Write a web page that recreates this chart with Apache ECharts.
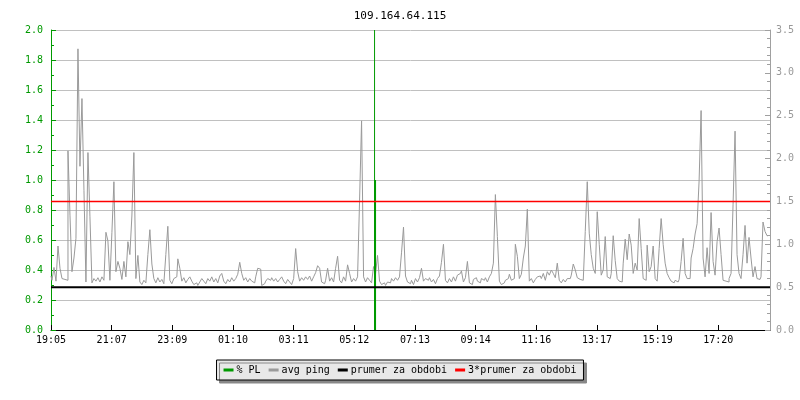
<!DOCTYPE html>
<html>
<head>
<meta charset="utf-8">
<title>109.164.64.115</title>
<script src="https://cdn.jsdelivr.net/npm/echarts@6/dist/echarts.min.js"></script>
<style>
  html, body { margin: 0; padding: 0; background: #fff; }
  #chart { width: 800px; height: 400px; }
</style>
</head>
<body>
<div id="chart"></div>
<script>
// casova osa: 24 h od 19:05, vzorek po 4 minutach
const stepMinutes = 4;
const totalMinutes = 1440;
const tickLabels = ['19:05', '21:07', '23:09', '01:10', '03:11', '05:12', '07:13', '09:14', '11:16', '13:17', '15:19', '17:20'];
const tickStep = 121.5;

// avg ping (prava osa)
const avgPing = [
  0.63, 0.58, 0.73, 0.57, 0.98, 0.72, 0.60, 0.59, 0.58, 2.09,
  1.34, 0.68, 0.84, 1.07, 3.28, 1.91, 2.70, 1.63, 0.56, 2.07,
  1.32, 0.55, 0.60, 0.57, 0.61, 0.56, 0.62, 0.58, 1.14, 1.04,
  0.58, 1.14, 1.73, 0.68, 0.80, 0.72, 0.59, 0.80, 0.62, 1.03,
  0.88, 1.33, 2.07, 0.60, 0.87, 0.56, 0.53, 0.58, 0.55, 0.88,
  1.17, 0.77, 0.60, 0.55, 0.61, 0.56, 0.59, 0.54, 0.88, 1.21,
  0.58, 0.54, 0.60, 0.62, 0.83, 0.72, 0.57, 0.61, 0.55, 0.59,
  0.62, 0.57, 0.53, 0.55, 0.52, 0.56, 0.60, 0.57, 0.54, 0.60,
  0.57, 0.62, 0.56, 0.60, 0.55, 0.63, 0.66, 0.57, 0.54, 0.59,
  0.56, 0.61, 0.57, 0.60, 0.65, 0.79, 0.66, 0.58, 0.61, 0.56,
  0.60, 0.57, 0.55, 0.62, 0.72, 0.71, 0.52, 0.54, 0.57, 0.60,
  0.58, 0.61, 0.57, 0.60, 0.56, 0.59, 0.62, 0.57, 0.54, 0.59,
  0.56, 0.53, 0.60, 0.95, 0.68, 0.57, 0.61, 0.58, 0.62, 0.59,
  0.63, 0.57, 0.62, 0.67, 0.75, 0.72, 0.56, 0.54, 0.58, 0.72,
  0.57, 0.61, 0.56, 0.72, 0.86, 0.58, 0.55, 0.62, 0.57, 0.76,
  0.66, 0.56, 0.60, 0.57, 0.62, 1.51, 2.44, 0.62, 0.56, 0.61,
  0.58, 0.55, 0.74, 0.66, 0.87, 0.57, 0.53, 0.55, 0.52, 0.56,
  0.55, 0.60, 0.57, 0.61, 0.58, 0.62, 0.90, 1.20, 0.63, 0.56,
  0.54, 0.58, 0.53, 0.60, 0.56, 0.61, 0.72, 0.57, 0.60, 0.58,
  0.61, 0.56, 0.59, 0.54, 0.60, 0.63, 0.79, 1.00, 0.58, 0.55,
  0.60, 0.56, 0.62, 0.57, 0.64, 0.66, 0.69, 0.56, 0.61, 0.80,
  0.55, 0.53, 0.59, 0.61, 0.57, 0.55, 0.60, 0.58, 0.61, 0.56,
  0.62, 0.66, 0.78, 1.58, 1.09, 0.57, 0.53, 0.55, 0.58, 0.60,
  0.65, 0.58, 0.60, 1.00, 0.86, 0.60, 0.65, 0.84, 0.98, 1.41,
  0.57, 0.60, 0.55, 0.59, 0.62, 0.63, 0.60, 0.66, 0.58, 0.68,
  0.64, 0.70, 0.66, 0.61, 0.78, 0.58, 0.55, 0.59, 0.56, 0.60,
  0.60, 0.64, 0.77, 0.70, 0.61, 0.59, 0.58, 0.60, 1.15, 1.73,
  1.13, 0.88, 0.72, 0.66, 1.38, 1.00, 0.64, 0.70, 1.09, 0.62,
  0.60, 0.66, 1.10, 0.81, 0.60, 0.57, 0.56, 0.78, 1.06, 0.82,
  1.12, 0.99, 0.66, 0.78, 0.70, 1.30, 0.95, 0.60, 0.58, 0.99,
  0.68, 0.74, 0.98, 0.60, 0.57, 0.95, 1.30, 1.00, 0.78, 0.66,
  0.61, 0.57, 0.55, 0.58, 0.56, 0.59, 0.80, 1.07, 0.66, 0.60,
  0.60, 0.84, 0.95, 1.12, 1.24, 1.74, 2.56, 0.84, 0.62, 0.96,
  0.66, 1.37, 0.80, 0.64, 1.03, 1.19, 0.88, 0.58, 0.57, 0.56,
  0.60, 0.66, 1.46, 2.32, 0.88, 0.66, 0.60, 0.88, 1.22, 0.78,
  1.08, 0.84, 0.62, 0.74, 0.60, 0.59, 0.62, 1.26, 1.15, 1.10
];

// % PL (leva osa) - jediny vypadek
const plIndex = [162];
const plValues = [1.0];
const plPeak = [2.0];

// prumer za obdobi (prava osa)
const prumer = 0.5;

const FONT = 'DejaVu Sans Mono';

const chart = echarts.init(document.getElementById('chart'));

const pingData = avgPing.map((v, i) => [i * stepMinutes, v]);
const plData = plIndex.map((idx, k) => [idx * stepMinutes, plValues[k]]);
const plPeakData = plIndex.map((idx, k) => [idx * stepMinutes, plPeak[k]]);

const option = {
  animation: false,
  backgroundColor: '#fff',
  title: {
    text: '109.164.64.115',
    left: 'center',
    top: 6,
    textStyle: {fontFamily: FONT, fontSize: 11, fontWeight: 'normal', color: '#000'}
  },
  legend: {
    left: 'center',
    top: 360,
    icon: 'rect',
    itemWidth: 10,
    itemHeight: 3,
    itemGap: 8,
    padding: [5, 7, 5, 7],
    backgroundColor: '#e8e8e8',
    borderColor: '#000',
    borderWidth: 1,
    shadowColor: '#888',
    shadowBlur: 0,
    shadowOffsetX: 3,
    shadowOffsetY: 3,
    textStyle: {fontFamily: FONT, fontSize: 10, color: '#000', padding: [0, 0, 0, -2]},
    data: ['% PL', 'avg ping', 'prumer za obdobi', '3*prumer za obdobi']
  },
  grid: {left: 51, right: 30, top: 30, bottom: 70},
  xAxis: {
    type: 'value',
    min: 0,
    max: totalMinutes,
    interval: tickStep,
    axisLine: {lineStyle: {color: '#000', width: 1}},
    axisTick: {inside: true, length: 5, lineStyle: {color: '#000'}},
    axisLabel: {
      fontFamily: FONT, fontSize: 10, color: '#000', margin: 5,
      showMaxLabel: false,
      formatter: (v) => tickLabels[Math.round(v / tickStep)] || ''
    },
    splitLine: {show: false}
  },
  yAxis: [
    {
      type: 'value',
      min: 0,
      max: 2,
      interval: 0.2,
      axisLine: {show: true, lineStyle: {color: '#009a00', width: 1}},
      axisTick: {show: true, inside: true, length: 5, lineStyle: {color: '#009a00'}},
      minorTick: {show: true, splitNumber: 2, length: 3, lineStyle: {color: '#009a00'}},
      axisLabel: {fontFamily: FONT, fontSize: 10, color: '#009a00', margin: 8, formatter: (v) => v.toFixed(1)},
      splitLine: {show: true, lineStyle: {color: '#c0c0c0', width: 1}}
    },
    {
      type: 'value',
      min: 0,
      max: 3.5,
      interval: 0.5,
      position: 'right',
      axisLine: {show: true, lineStyle: {color: '#a0a0a0', width: 1}},
      axisTick: {show: true, inside: true, length: 5, lineStyle: {color: '#a0a0a0'}},
      minorTick: {show: true, splitNumber: 5, length: 3, lineStyle: {color: '#a0a0a0'}},
      axisLabel: {fontFamily: FONT, fontSize: 10, color: '#999', margin: 6, formatter: (v) => v.toFixed(1)},
      splitLine: {show: false}
    }
  ],
  series: [
    {
      name: '% PL',
      type: 'bar',
      yAxisIndex: 0,
      barWidth: 2,
      barGap: '-100%',
      itemStyle: {color: '#009a00'},
      data: plData,
      z: 3
    },
    {
      name: '% PL',
      type: 'bar',
      yAxisIndex: 0,
      barWidth: 1,
      barGap: '-100%',
      itemStyle: {color: '#009a00'},
      data: plPeakData,
      z: 3
    },
    {
      // stupnovita cara jako v rrdtool
      name: 'avg ping',
      type: 'line',
      yAxisIndex: 1,
      step: 'middle',
      symbol: 'none',
      sampling: 'none',
      lineStyle: {color: '#9a9a9a', width: 1},
      itemStyle: {color: '#9a9a9a'},
      data: pingData,
      z: 2
    },
    {
      name: 'prumer za obdobi',
      type: 'line',
      yAxisIndex: 1,
      symbol: 'none',
      lineStyle: {color: '#000', width: 2},
      itemStyle: {color: '#000'},
      data: [[0, prumer], [totalMinutes, prumer]],
      z: 4
    },
    {
      name: '3*prumer za obdobi',
      type: 'line',
      yAxisIndex: 1,
      symbol: 'none',
      lineStyle: {color: '#ff0000', width: 1.5},
      itemStyle: {color: '#ff0000'},
      data: [[0, 3 * prumer], [totalMinutes, 3 * prumer]],
      z: 4
    }
  ]
};

chart.setOption(option);
</script>
</body>
</html>
